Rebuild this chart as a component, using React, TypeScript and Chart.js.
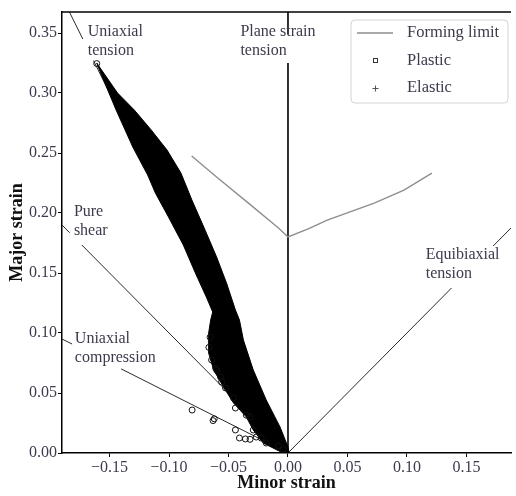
import React, { useEffect, useRef } from "react";
import { Chart, registerables } from "chart.js";

Chart.register(...registerables);

// ---------- data ----------
const xTickValues = [-0.15, -0.1, -0.05, 0, 0.05, 0.1, 0.15];
const xTickLabels = ["\u22120.15", "\u22120.10", "\u22120.05", "0.00", "0.05", "0.10", "0.15"];
const yTickValues = [0, 0.05, 0.1, 0.15, 0.2, 0.25, 0.3, 0.35];
const yTickLabels = ["0.00", "0.05", "0.10", "0.15", "0.20", "0.25", "0.30", "0.35"];

// forming limit curve
const formingX = [-0.081, -0.058, -0.033, -0.008, 0.0, 0.017, 0.033, 0.0725, 0.0975, 0.121];
const formingY = [0.2475, 0.2283, 0.208, 0.1875, 0.18, 0.1867, 0.194, 0.2083, 0.219, 0.2333];

// plastic strain cloud outline (dense region)
const bandX = [
  -0.1608, -0.1433, -0.1292, -0.115, -0.1017, -0.09, -0.0808, -0.0708, -0.06, -0.0517, -0.0442,
  -0.0408, -0.0375, -0.0292, -0.0183, -0.0067, 0.0, 0.0008,
  -0.0058, -0.0208, -0.0292, -0.035, -0.0458, -0.0542, -0.0625, -0.0667, -0.0667, -0.065,
  -0.0633, -0.0683, -0.0775, -0.088, -0.1005, -0.1115, -0.118, -0.1305, -0.1445, -0.1575,
];
const bandY = [
  0.325, 0.3, 0.2858, 0.2692, 0.2525, 0.2333, 0.2108, 0.1883, 0.1633, 0.1417, 0.1192,
  0.1108, 0.0942, 0.0692, 0.0442, 0.0217, 0.005, 0.0,
  0.0008, 0.0083, 0.0192, 0.03, 0.0417, 0.055, 0.0692, 0.0833, 0.1, 0.1108,
  0.1175, 0.1292, 0.1492, 0.1733, 0.1967, 0.2167, 0.2317, 0.255, 0.2858, 0.3167,
];

// individually visible plastic points
const plasticX = [
  -0.0806, -0.063, -0.062, -0.0442, -0.0408, -0.0358, -0.0319,
  -0.06, -0.0558, -0.0525, -0.0458, -0.0442, -0.0317, -0.0292, -0.0267, -0.0225, -0.0183,
  -0.0642, -0.0608, -0.0567, -0.035, -0.1608, -0.004, -0.008, -0.0665, -0.0655,
];
const plasticY = [
  0.0358, 0.027, 0.0285, 0.0192, 0.0125, 0.0117, 0.0114,
  0.0692, 0.0592, 0.0542, 0.0458, 0.0375, 0.03, 0.0192, 0.0133, 0.0125, 0.0083,
  0.0775, 0.0708, 0.0633, 0.0315, 0.3245, 0.003, 0.006, 0.088, 0.0965,
];

const elasticX: number[] = [];
const elasticY: number[] = [];

// reference strain paths (null = gap for label)
const uniTensionX = [-0.1836, -0.1725, null, -0.1635, 0];
const uniTensionY = [0.3672, 0.345, null, 0.327, 0];
const planeStrainX = [0, 0, null, 0, 0];
const planeStrainY = [0, 0.325, null, 0.349, 0.3675];
const pureShearX = [-0.19, -0.1835, null, -0.1733, 0];
const pureShearY = [0.19, 0.1835, null, 0.1733, 0];
const uniCompX = [-0.19, -0.1815, null, -0.1403, 0];
const uniCompY = [0.095, 0.0908, null, 0.0701, 0];
const equiX = [0, 0.1375, null, 0.1725, 0.19];
const equiY = [0, 0.1375, null, 0.1725, 0.19];

const annotationTexts = [
  ["Uniaxial", "tension"],
  ["Plane strain", "tension"],
  ["Pure", "shear"],
  ["Uniaxial", "compression"],
  ["Equibiaxial", "tension"],
];
const annotationAnchorX = [-0.1683, -0.04, -0.18, -0.1792, 0.1158];
const annotationAnchorY = [0.3508, 0.3508, 0.2008, 0.095, 0.165];

const legendLabels = ["Forming limit", "Plastic", "Elastic"];

// ---------- helpers ----------
const pts = (xs: (number | null)[], ys: (number | null)[]) =>
  xs.map((x, i) => ({ x: x as any, y: ys[i] as any }));

const SERIF = "'Liberation Serif', 'DejaVu Serif', serif";
const TEXT_COLOR = "#3b3b4c";
const PLASTIC_INDEX = 0;

const bandPlugin = {
  id: "bandPlugin",
  beforeDatasetDraw(chart: any, args: any) {
    if (args.index !== PLASTIC_INDEX) return;
    const { ctx, chartArea } = chart;
    const xs = chart.scales.x;
    const ys = chart.scales.y;
    ctx.save();
    ctx.beginPath();
    ctx.rect(chartArea.left, chartArea.top, chartArea.right - chartArea.left, chartArea.bottom - chartArea.top);
    ctx.clip();
    ctx.beginPath();
    bandX.forEach((v, i) => {
      const px = xs.getPixelForValue(v);
      const py = ys.getPixelForValue(bandY[i]);
      if (i === 0) ctx.moveTo(px, py);
      else ctx.lineTo(px, py);
    });
    ctx.closePath();
    ctx.fillStyle = "#000";
    ctx.fill();
    ctx.strokeStyle = "#000";
    ctx.lineWidth = 1;
    ctx.stroke();
    ctx.restore();
  },
};

const decorPlugin = {
  id: "decorPlugin",
  afterDraw(chart: any) {
    const { ctx, chartArea } = chart;
    const xs = chart.scales.x;
    const ys = chart.scales.y;
    ctx.save();
    // top spine
    ctx.strokeStyle = "#000";
    ctx.lineWidth = 1.5;
    ctx.beginPath();
    ctx.moveTo(chartArea.left - 0.75, chartArea.top);
    ctx.lineTo(chartArea.right, chartArea.top);
    ctx.stroke();

    // annotations
    ctx.font = `16px ${SERIF}`;
    ctx.fillStyle = TEXT_COLOR;
    ctx.textAlign = "left";
    ctx.textBaseline = "middle";
    annotationTexts.forEach((lines, i) => {
      const px = xs.getPixelForValue(annotationAnchorX[i]);
      const py = ys.getPixelForValue(annotationAnchorY[i]);
      lines.forEach((t, j) => ctx.fillText(t, px, py + j * 18.5));
    });

    // legend
    const lx = 351, ly = 20, lw = 157, lh = 83, r = 4;
    ctx.beginPath();
    ctx.moveTo(lx + r, ly);
    ctx.lineTo(lx + lw - r, ly);
    ctx.quadraticCurveTo(lx + lw, ly, lx + lw, ly + r);
    ctx.lineTo(lx + lw, ly + lh - r);
    ctx.quadraticCurveTo(lx + lw, ly + lh, lx + lw - r, ly + lh);
    ctx.lineTo(lx + r, ly + lh);
    ctx.quadraticCurveTo(lx, ly + lh, lx, ly + lh - r);
    ctx.lineTo(lx, ly + r);
    ctx.quadraticCurveTo(lx, ly, lx + r, ly);
    ctx.closePath();
    ctx.fillStyle = "rgba(255,255,255,0.9)";
    ctx.fill();
    ctx.strokeStyle = "#d4d4d4";
    ctx.lineWidth = 1;
    ctx.stroke();

    // legend entries
    ctx.strokeStyle = "#555";
    ctx.lineWidth = 1.2;
    ctx.beginPath();
    ctx.moveTo(357, 33);
    ctx.lineTo(393, 33);
    ctx.stroke();

    ctx.strokeStyle = "#333";
    ctx.lineWidth = 1;
    ctx.strokeRect(373.5, 58.5, 4, 4);

    ctx.strokeStyle = "#555";
    ctx.beginPath();
    ctx.moveTo(372.5, 88.5);
    ctx.lineTo(378.5, 88.5);
    ctx.moveTo(375.5, 85.5);
    ctx.lineTo(375.5, 91.5);
    ctx.stroke();

    ctx.fillStyle = TEXT_COLOR;
    ctx.font = `16.5px ${SERIF}`;
    legendLabels.forEach((t, i) => ctx.fillText(t, 407, 33 + i * 27.5));
    ctx.restore();
  },
};

export default function App() {
  const ref = useRef<HTMLCanvasElement | null>(null);

  useEffect(() => {
    if (!ref.current) return;
    const guide = (xs: any[], ys: any[], color = "#2a2a2a", width = 1) => ({
      data: pts(xs, ys),
      showLine: true,
      spanGaps: false,
      borderColor: color,
      borderWidth: width,
      pointRadius: 0,
      fill: false,
    });

    const chart = new Chart(ref.current, {
      type: "scatter",
      data: {
        datasets: [
          {
            label: "Plastic",
            data: pts(plasticX, plasticY),
            pointStyle: "circle",
            pointRadius: 3,
            borderColor: "#111",
            borderWidth: 1,
            backgroundColor: "rgba(0,0,0,0)",
          } as any,
          {
            label: "Elastic",
            data: pts(elasticX, elasticY),
            pointStyle: "cross",
            pointRadius: 3,
            borderColor: "#555",
            borderWidth: 1,
          } as any,
          { label: "Forming limit", ...guide(formingX, formingY, "#8e8e8e", 1.4) } as any,
          { label: "Uniaxial tension", ...guide(uniTensionX, uniTensionY) } as any,
          { label: "Plane strain tension", ...guide(planeStrainX, planeStrainY, "#000", 1.6) } as any,
          { label: "Pure shear", ...guide(pureShearX, pureShearY) } as any,
          { label: "Uniaxial compression", ...guide(uniCompX, uniCompY) } as any,
          { label: "Equibiaxial tension", ...guide(equiX, equiY) } as any,
        ],
      },
      options: {
        responsive: false,
        maintainAspectRatio: false,
        animation: false,
        devicePixelRatio: 1,
        layout: { padding: { top: 12, right: 1, left: 0, bottom: 0 } },
        plugins: {
          legend: { display: false },
          tooltip: { enabled: false },
        },
        scales: {
          x: {
            type: "linear",
            min: -0.19,
            max: 0.1875,
            afterBuildTicks: (scale: any) => {
              scale.ticks = xTickValues.map((v) => ({ value: v }));
            },
            afterFit: (scale: any) => {
              scale.height = 43;
            },
            ticks: {
              autoSkip: false,
              maxRotation: 0,
              padding: 1,
              color: TEXT_COLOR,
              font: { family: SERIF, size: 16 },
              callback: (_v: any, i: number) => xTickLabels[i],
            },
            grid: { display: true, drawOnChartArea: false, drawTicks: true, tickLength: 4, color: "#000", lineWidth: 1 },
            border: { display: true, color: "#000", width: 1.5 },
            title: {
              display: true,
              text: "Minor strain",
              color: "#111",
              font: { family: SERIF, size: 18, weight: "bold" },
              padding: { top: 0, bottom: 2 },
            },
          },
          y: {
            type: "linear",
            min: 0,
            max: 0.3675,
            afterBuildTicks: (scale: any) => {
              scale.ticks = yTickValues.map((v) => ({ value: v }));
            },
            afterFit: (scale: any) => {
              scale.width = 62;
            },
            ticks: {
              autoSkip: false,
              padding: 1,
              color: TEXT_COLOR,
              font: { family: SERIF, size: 16 },
              callback: (_v: any, i: number) => yTickLabels[i],
            },
            grid: { display: true, drawOnChartArea: false, drawTicks: true, tickLength: 4, color: "#000", lineWidth: 1 },
            border: { display: true, color: "#000", width: 1.5 },
            title: {
              display: true,
              text: "Major strain",
              color: "#111",
              font: { family: SERIF, size: 18, weight: "bold" },
              padding: { top: 7, bottom: 0 },
            },
          },
        },
      } as any,
      plugins: [bandPlugin, decorPlugin],
    });
    return () => chart.destroy();
  }, []);

  return (
    <div style={{ position: "absolute", left: 0, top: 0, width: 516, height: 496, background: "#fff" }}>
      <canvas ref={ref} width={516} height={496} style={{ display: "block", width: 516, height: 496 }} />
    </div>
  );
}
